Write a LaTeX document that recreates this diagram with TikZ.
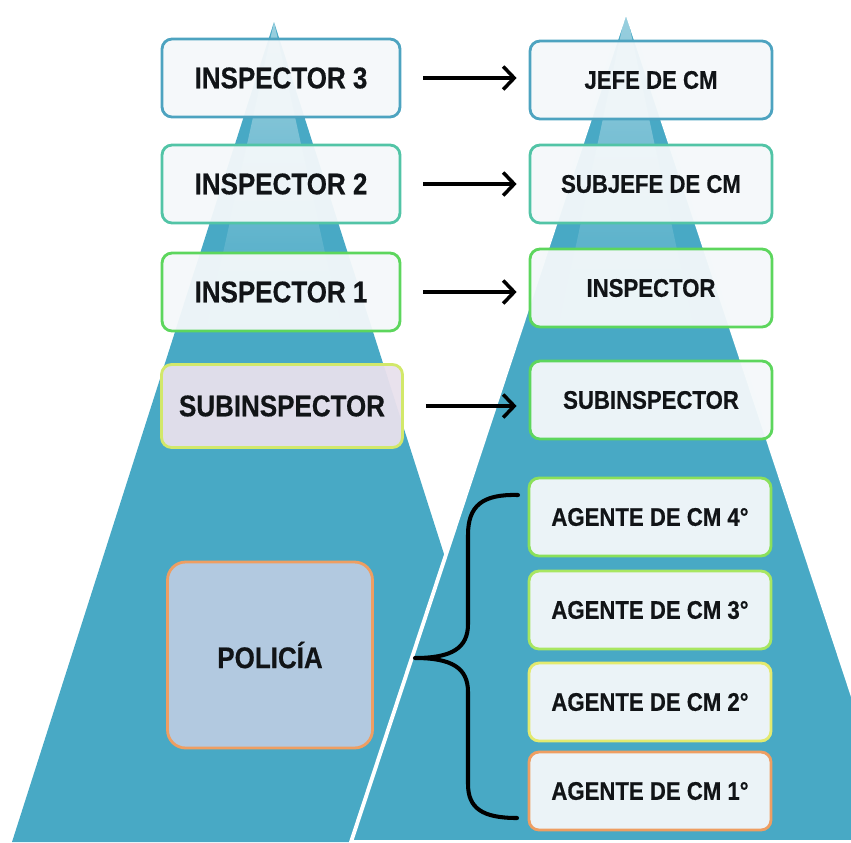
\documentclass[tikz,border=0pt]{standalone}
\usepackage{fontspec}
\newfontfamily\rangofont[FakeStretch=0.87, BoldFeatures={FakeBold=0.5}]{Liberation Sans}
\usetikzlibrary{arrows.meta,fadings}
\definecolor{piramide}{HTML}{48A9C5}
\definecolor{cajafondo}{HTML}{F4F8FA}
\definecolor{texto}{HTML}{111417}
\definecolor{borde3}{HTML}{4DA3C0}
\definecolor{borde2}{HTML}{52C4A6}
\definecolor{borde1}{HTML}{5DD65D}
\definecolor{bordesub}{HTML}{D2E86A}
\definecolor{verde4}{HTML}{8BE05A}
\definecolor{verde3}{HTML}{A8E661}
\definecolor{amarillo}{HTML}{E3EA6E}
\definecolor{naranja}{HTML}{EE9E62}
\definecolor{lila}{HTML}{E8E0EC}
\definecolor{policia}{HTML}{B8CBE2}

\begin{document}
\begin{tikzpicture}[x=0.02cm, y=-0.02cm,
  rango/.style={rounded corners=0.2cm, line width=1.6pt, fill=cajafondo, fill opacity=0.95, text opacity=1, text=texto, font=\rangofont\bfseries\fontsize{17}{20}\selectfont, minimum width=4.76cm, minimum height=1.56cm, inner sep=0pt},
  rangocm/.style={rango, font=\rangofont\bfseries\fontsize{14.5}{17}\selectfont, minimum width=4.84cm},
  flecha/.style={line width=2pt, -{Straight Barb[length=0.22cm,width=0.46cm]}, shorten <=0.44cm, shorten >=0.24cm},
  llave/.style={line width=2.3pt, line cap=round, line join=round}]
\useasboundingbox (0,0) rectangle (851,842);
\clip (0,0) rectangle (851,842);

\fill[piramide] (274,22) -- (536,842) -- (12,842) -- cycle;
\fill[white, fill opacity=0.45, path fading=south] (274,22) -- (342,330) -- (206,330) -- cycle;
\filldraw[fill=piramide, draw=white, line width=2.2pt, line join=round] (626,10) -- (901,842) -- (351,842) -- cycle;
\fill[white, fill opacity=0.45, path fading=south] (626,10) -- (694,330) -- (558,330) -- cycle;

\node[rango, draw=borde3] (i3) at (281,78) {INSPECTOR 3};
\node[rango, draw=borde2] (i2) at (281,184) {INSPECTOR 2};
\node[rango, draw=borde1] (i1) at (281,292) {INSPECTOR 1};
\node[rango, draw=bordesub, fill=lila, minimum width=4.82cm, minimum height=1.66cm] (subl) at (282,406) {SUBINSPECTOR};
\node[rango, draw=naranja, fill=policia, minimum width=4.1cm, minimum height=3.72cm, rounded corners=0.36cm] (pol) at (270,655) {POLICÍA};

\node[rangocm, draw=borde3] (jefe) at (651,80) {JEFE DE CM};
\node[rangocm, draw=borde2] (subjefe) at (651,184) {SUBJEFE DE CM};
\node[rangocm, draw=borde1] (insp) at (651,288) {INSPECTOR};
\node[rangocm, draw=borde1] (subr) at (651,400) {SUBINSPECTOR};
\node[rangocm, draw=verde4] (ag4) at (650,517) {AGENTE DE CM 4°};
\node[rangocm, draw=verde3] (ag3) at (650,610) {AGENTE DE CM 3°};
\node[rangocm, draw=amarillo] (ag2) at (650,702) {AGENTE DE CM 2°};
\node[rangocm, draw=naranja] (ag1) at (650,791) {AGENTE DE CM 1°};

\draw[flecha] (i3.east) -- (i3.east -| jefe.west);
\draw[flecha] (i2.east) -- (i2.east -| subjefe.west);
\draw[flecha] (i1.east) -- (i1.east -| insp.west);
\draw[flecha] (subl.east) -- (subl.east -| subr.west);

\draw[llave] (518,495) .. controls (482,494) and (468,506) .. (468,535) -- (468,624) .. controls (468,648) and (452,658) .. (415,658) .. controls (452,658) and (468,668) .. (468,692) -- (468,784) .. controls (468,808) and (482,818) .. (517,818);
\end{tikzpicture}
\end{document}
